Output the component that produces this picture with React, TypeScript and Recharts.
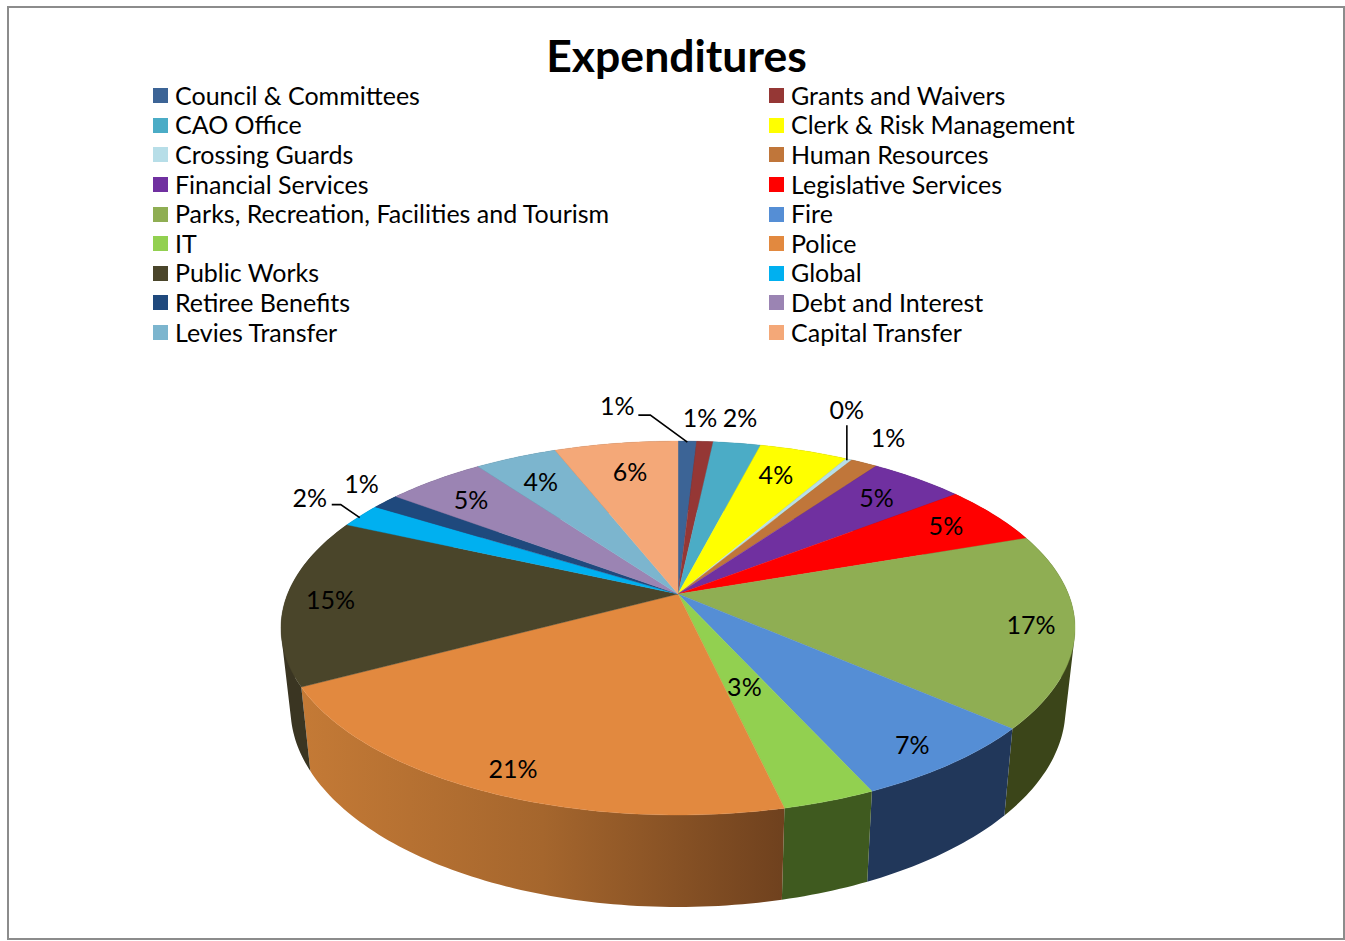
import { Legend, Pie, PieChart } from "recharts";

const categories = [
  "Council & Committees", "Grants and Waivers", "CAO Office", "Clerk & Risk Management",
  "Crossing Guards", "Human Resources", "Financial Services", "Legislative Services",
  "Parks, Recreation, Facilities and Tourism", "Fire", "IT", "Police",
  "Public Works", "Global", "Retiree Benefits", "Debt and Interest",
  "Levies Transfer", "Capital Transfer",
];
const shares = [0.9, 0.8, 2.3, 4.3, 0.3, 1.3, 4.6, 5.2, 16.7, 6.8, 3.2, 20.8, 14.55, 2.1, 1.35, 4.8, 4.0, 6.0];
const topColors = [
  "#3C6496", "#953735", "#4BACC6", "#FFFF00", "#B7DEE8", "#C0763A", "#7030A0", "#FF0000", "#8FAE53",
  "#558ED5", "#92D050", "#E2893F", "#4A452A", "#00B0F0", "#1F497D", "#9B84B3", "#7CB5CE", "#F4A878",
];
const wallColors = [
  "#1F3350", "#4F1D1C", "#26606F", "#808000", "#5C7074", "#603B1D", "#381850", "#800000", "#3B4519",
  "#21375A", "#3F5A1F", "url(#policeWall)", "#3A3522", "#005878", "#10253F", "#4E425A", "#3E5A67", "#7A543C",
];
// label position, relative to the rim point at the middle of each slice
const labelOffsets = [
  [-70, -35], [-5, -24], [3, -25], [-28, 24], [-2, -49], [24, -25], [-41, 19], [-48, 11], [-44, -5],
  [-39, -19], [-85, -114], [29, -22], [45, 0], [-51, -18], [-24, -18], [36, 20], [25, 25], [14, 29],
];
const leaderLines: Record<number, number[][]> = {
  0: [[0, 1], [-37, -26], [-49, -26]],
  4: [[-2, 1], [-2, -34]],
  13: [[-1, 2], [-20, -11], [-29, -11]],
};

const chartData = categories.map((name, i) => ({ name, value: shares[i], fill: topColors[i] }));
const wallData = categories.map((name, i) => ({ name, value: shares[i], fill: wallColors[i] }));

const CX = 669;
const CY = 586;
const RADIUS = 390.4;
const FLATTEN = 0.463; // vertical squash of the disc
const PERSPECTIVE = 0.182;

type Pt = { x: number; y: number };

// disc point at a recharts angle -> screen, with the near edge pulled down
const project = (angle: number, cx: number, cy: number, r: number): Pt => {
  const t = ((90 - angle) * Math.PI) / 180;
  const u = Math.sin(t);
  const v = -Math.cos(t);
  const w = 1 - PERSPECTIVE * v;
  return { x: cx + (r * u) / w, y: cy + (r * FLATTEN * v) / w };
};

const lower = (p: Pt, cx: number, cy: number): Pt => ({
  x: cx + 0.976 * (p.x - cx),
  y: cy + 1.062 * (p.y - cy) + 78.3,
});

const rimPoints = (props: any) => {
  const { startAngle, endAngle, cx, cy, outerRadius } = props;
  const steps = Math.max(2, Math.ceil(Math.abs(endAngle - startAngle)));
  const pts: Pt[] = [];
  for (let i = 0; i <= steps; i++) {
    pts.push(project(startAngle + ((endAngle - startAngle) * i) / steps, cx, cy, outerRadius));
  }
  return pts;
};

const toPath = (pts: Pt[]) =>
  "M" + pts.map((p) => `${p.x.toFixed(2)} ${p.y.toFixed(2)}`).join(" L") + " Z";

// signed area, so every wall quad can be wound the same way
const area = (pts: Pt[]) =>
  pts.reduce((sum, p, i) => {
    const q = pts[(i + 1) % pts.length];
    return sum + p.x * q.y - q.x * p.y;
  }, 0);

const TopSlice = (props: any) => (
  <path
    d={toPath([{ x: props.cx, y: props.cy }, ...rimPoints(props)])}
    fill={props.fill}
    stroke={props.fill}
    strokeWidth={0.4}
  />
);

const WallSlice = (props: any) => {
  const rim = rimPoints(props);
  const bottom = rim.map((p) => lower(p, props.cx, props.cy));
  // a band folds over at the silhouette, so fill it as a union of quads
  const quads = rim.slice(1).map((p, i) => {
    const quad = [rim[i], p, bottom[i + 1], bottom[i]];
    return toPath(area(quad) < 0 ? quad.reverse() : quad);
  });
  return <path d={quads.join(" ")} fill={props.fill} stroke="none" />;
};

const SliceLabel = (props: any) => {
  const { index, midAngle, cx, cy, outerRadius, percent } = props;
  const rim = project(midAngle, cx, cy, outerRadius);
  const [dx, dy] = labelOffsets[index];
  const leader = leaderLines[index];
  return (
    <g>
      {leader && (
        <polyline
          points={leader.map(([a, b]) => `${rim.x + a},${rim.y + b}`).join(" ")}
          fill="none"
          stroke="#000"
          strokeWidth={1.6}
        />
      )}
      <text
        x={rim.x + dx}
        y={rim.y + dy - 1}
        textAnchor="middle"
        dominantBaseline="central"
        fontFamily="Lato"
        fontSize={25}
        fill="#000"
      >
        {Math.round(percent * 100)}%
      </text>
    </g>
  );
};

const TwoColumnLegend = (props: any) => (
  <div style={{ display: "grid", gridTemplateColumns: "616px 400px", gridAutoRows: "29.6px" }}>
    {props.payload
      .filter((item: any) => item.type !== "none")
      .map((item: any) => (
        <div key={item.value} style={{ display: "flex", alignItems: "center", fontFamily: "Lato", fontSize: 25, color: "#000", whiteSpace: "nowrap" }}>
          <span style={{ width: 15, height: 15, background: item.color, marginRight: 7, flex: "none" }} />
          <span style={{ position: "relative", top: -1 }}>{item.value}</span>
        </div>
      ))}
  </div>
);

export default function App() {
  return (
    <div style={{ position: "absolute", left: 7, top: 6, boxSizing: "border-box", width: 1338, height: 934, border: "2px solid #8C8C8C", background: "#fff" }}>
      <PieChart width={1334} height={930} margin={{ top: 0, right: 0, bottom: 0, left: 0 }}>
        <defs>
          <linearGradient id="policeWall" x1="0" y1="0" x2="1" y2="0">
            <stop offset="0%" stopColor="#C47A36" />
            <stop offset="50%" stopColor="#A5662D" />
            <stop offset="100%" stopColor="#6F411E" />
          </linearGradient>
        </defs>
        <text x={667.5} y={46} textAnchor="middle" dominantBaseline="central" fontFamily="Lato" fontWeight={700} fontSize={44.5} fill="#000">
          Expenditures
        </text>
        <Pie
          data={wallData}
          dataKey="value"
          nameKey="name"
          cx={CX}
          cy={CY}
          outerRadius={RADIUS}
          startAngle={90}
          endAngle={-270}
          legendType="none"
          shape={WallSlice}
          isAnimationActive={false}
        />
        <Pie
          data={chartData}
          dataKey="value"
          nameKey="name"
          cx={CX}
          cy={CY}
          outerRadius={RADIUS}
          startAngle={90}
          endAngle={-270}
          shape={TopSlice}
          label={SliceLabel}
          labelLine={false}
          isAnimationActive={false}
        />
        <Legend
          content={TwoColumnLegend}
          itemSorter={null}
          wrapperStyle={{ position: "absolute", left: 144, top: 73, width: 1016, height: 270 }}
        />
      </PieChart>
    </div>
  );
}
